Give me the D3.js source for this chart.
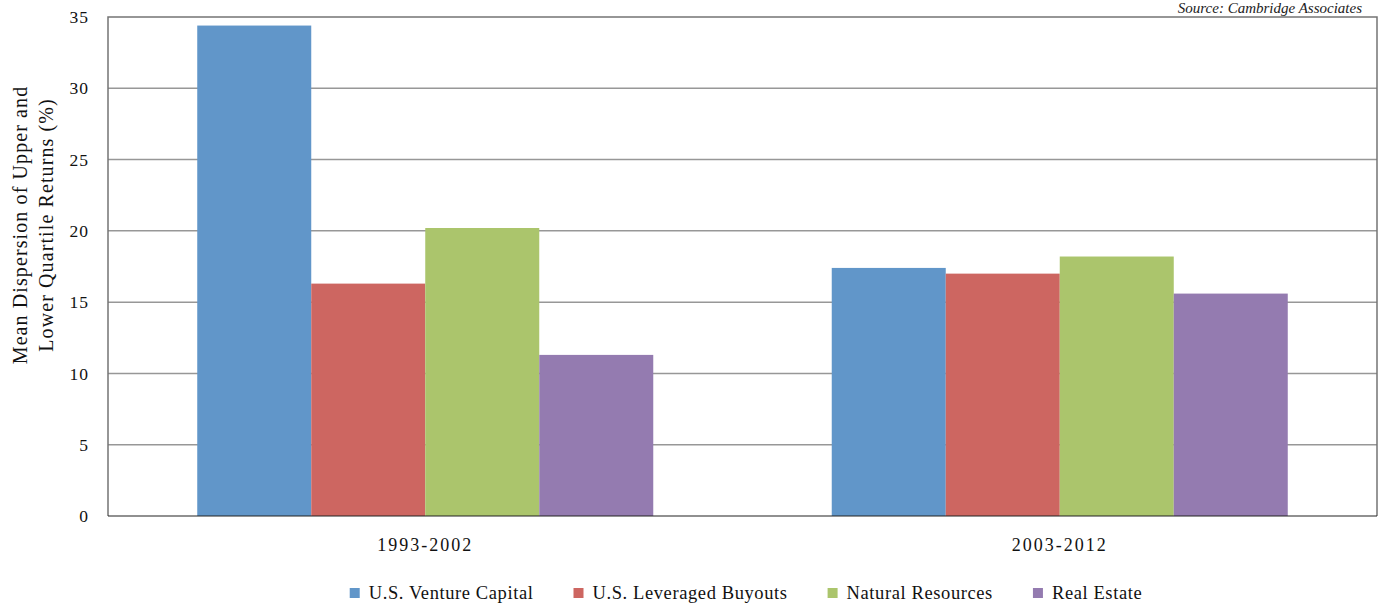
<!DOCTYPE html>
<html>
<head>
<meta charset="utf-8">
<script src="https://cdn.jsdelivr.net/npm/d3@7"></script>
<style>
  html, body { margin: 0; padding: 0; background: #fff; }
  svg { display: block; font-family: "Liberation Serif", "Times New Roman", serif; }
</style>
</head>
<body>
<svg id="chart" width="1384" height="605"></svg>
<script>
const categories = ["1993-2002", "2003-2012"];
const seriesNames = ["U.S. Venture Capital", "U.S. Leveraged Buyouts", "Natural Resources", "Real Estate"];
const ventureCapital = [34.4, 17.4];
const leveragedBuyouts = [16.3, 17.0];
const naturalResources = [20.2, 18.2];
const realEstate = [11.3, 15.6];
const yTicks = [0, 5, 10, 15, 20, 25, 30, 35];
const colors = ["#6196c9", "#cd6661", "#abc56c", "#947bb0"];
const yTitle = ["Mean Dispersion of Upper and", "Lower Quartile Returns (%)"];
const sourceText = "Source: Cambridge Associates";

const seriesValues = [ventureCapital, leveragedBuyouts, naturalResources, realEstate];

const svg = d3.select("#chart");
const m = { left: 108, right: 1377, top: 17, bottom: 516 };

const y = d3.scaleLinear().domain([0, 35]).range([m.bottom, m.top]);
const x0 = d3.scaleBand().domain(categories).range([m.left, m.right]).padding(0);
const groupFrac = 0.7187;
const bw = x0.bandwidth();
const x1 = d3.scaleBand().domain(d3.range(seriesNames.length))
  .range([bw * (1 - groupFrac) / 2, bw * (1 + groupFrac) / 2]).padding(0);

// gridlines
svg.append("g").selectAll("line").data(yTicks.filter(t => t > 0 && t < 35)).join("line")
  .attr("x1", m.left).attr("x2", m.right)
  .attr("y1", d => y(d)).attr("y2", d => y(d))
  .attr("stroke", "#979797").attr("stroke-width", 1.5);

// plot border (top, left, right)
svg.append("path")
  .attr("d", `M${m.left},${m.bottom}V${m.top}H${m.right}V${m.bottom}`)
  .attr("fill", "none").attr("stroke", "#747474").attr("stroke-width", 1.5);

// bars
const data = [];
categories.forEach((c, ci) => seriesValues.forEach((s, si) => data.push({ c, si, v: s[ci] })));
svg.append("g").selectAll("rect").data(data).join("rect")
  .attr("x", d => x0(d.c) + x1(d.si))
  .attr("width", x1.bandwidth())
  .attr("y", d => y(d.v))
  .attr("height", d => y(0) - y(d.v))
  .attr("fill", d => colors[d.si]);

// bottom axis line
svg.append("line").attr("x1", m.left).attr("x2", m.right)
  .attr("y1", m.bottom).attr("y2", m.bottom)
  .attr("stroke", "#222").attr("stroke-width", 1.2);

// y axis labels
const yAxis = d3.axisLeft(y).tickValues(yTicks).tickSize(0).tickPadding(19);
const gy = svg.append("g").attr("transform", `translate(${m.left},0)`).call(yAxis);
gy.select(".domain").remove();
gy.selectAll("text").attr("font-size", 17.5).attr("letter-spacing", 1).attr("fill", "#111")
  .attr("font-family", "Liberation Serif, serif");

// x axis labels
const xAxis = d3.axisBottom(x0).tickSize(0).tickPadding(22);
const gx = svg.append("g").attr("transform", `translate(0,${m.bottom})`).call(xAxis);
gx.select(".domain").remove();
gx.selectAll("text").attr("font-size", 18).attr("letter-spacing", 2).attr("fill", "#111")
  .attr("font-family", "Liberation Serif, serif");

// y title
const yt = svg.append("text")
  .attr("transform", `translate(27,225) rotate(-90)`)
  .attr("text-anchor", "middle").attr("font-size", 20).attr("letter-spacing", 1.1).attr("fill", "#111");
yt.selectAll("tspan").data(yTitle).join("tspan")
  .attr("x", 0).attr("dy", (d, i) => i === 0 ? 0 : 26).text(d => d);

// source
svg.append("text").attr("x", 1362).attr("y", 13).attr("text-anchor", "end")
  .attr("font-style", "italic").attr("font-size", 15).attr("fill", "#222").text(sourceText);

// legend
const legend = svg.append("g");
const items = legend.selectAll("g").data(seriesNames).join("g");
items.append("rect").attr("width", 10).attr("height", 10).attr("y", -5)
  .attr("fill", (d, i) => colors[i]);
items.append("text").attr("x", 19).attr("dy", "0.35em").attr("font-size", 18.5)
  .attr("letter-spacing", 0.6).attr("fill", "#111").text(d => d);
let cx = 0;
const positions = [];
items.each(function () {
  const w = d3.select(this).select("text").node().getComputedTextLength() + 19;
  positions.push(cx);
  cx += w + 40;
});
const totalW = cx - 40;
const startX = 746 - totalW / 2;
items.attr("transform", (d, i) => `translate(${startX + positions[i]},593)`);
</script>
</body>
</html>
